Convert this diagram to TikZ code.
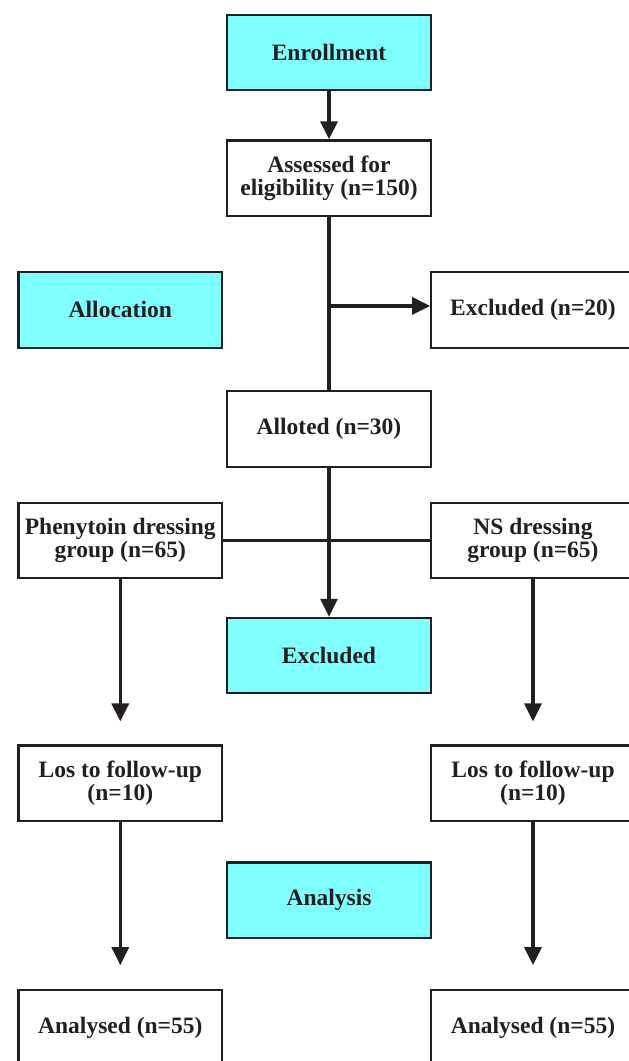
\documentclass[tikz,border=0pt]{standalone}
\usepackage{fontspec}
\setmainfont{Liberation Serif}
\usetikzlibrary{arrows.meta,positioning}
\definecolor{Ink}{HTML}{231F20}
\definecolor{HeadC}{HTML}{80FFFF}

\begin{document}
\begin{tikzpicture}[
  x=1pt, y=-1pt,
  box/.style={draw=Ink, line width=2.2pt, minimum width=203.5pt, minimum height=75.5pt, inner sep=2pt, align=center, text=Ink, font=\fontsize{23.5}{23.5}\selectfont\bfseries},
  head/.style={box, fill=HeadC},
  arr/.style={-{Triangle[length=18pt,width=17pt]}, Ink, line width=3.3pt},
  ln/.style={Ink, line width=3.3pt}
]
\useasboundingbox (0,0) rectangle (629,1061);
\clip (0,0) rectangle (629,1061);

% centre column
\node[head] (enrol) at (329,52.5) {Enrollment};
\node[box, below=48pt of enrol] (assess) {Assessed for\\eligibility (n=150)};
\node[box, below=173pt of assess] (allot) {Alloted (n=30)};
\node[head, below=149pt of allot] (exclhead) {Excluded};
\node[head, below=167pt of exclhead] (analysis) {Analysis};

% side boxes
\node[head, below left=54pt and 3pt of assess] (alloc) {Allocation};
\node[box, right=207pt of alloc] (excl20) {Excluded (n=20)};
\node[box, below left=34pt and 3pt of allot] (phen) {Phenytoin dressing\\group (n=65)};
\node[box, right=207pt of phen] (ns) {NS dressing\\group (n=65)};
\node[box, below=165pt of phen] (losA) {Los to follow-up\\(n=10)};
\node[box, below=165pt of ns] (losB) {Los to follow-up\\(n=10)};
\node[box, below=167pt of losA] (anaA) {Analysed (n=55)};
\node[box, below=167pt of losB] (anaB) {Analysed (n=55)};

% free arrow ends
\coordinate (split) at ([yshift=4pt]excl20.west -| assess.south);
\coordinate (endA) at ([yshift=23pt]losA.north);
\coordinate (endB) at ([yshift=23pt]losB.north);
\coordinate (endC) at ([yshift=24pt]anaA.north);
\coordinate (endD) at ([yshift=24pt]anaB.north);

% arrows
\draw[arr] (enrol) -- (assess);
\draw[ln] (assess) -- (allot);
\draw[arr] (split) -- ([yshift=4pt]excl20.west);
\draw[ln] (phen) -- (ns);
\draw[arr] (allot) -- (exclhead);
\draw[arr] (phen) -- (endA);
\draw[arr] (ns) -- (endB);
\draw[arr] (losA) -- (endC);
\draw[arr] (losB) -- (endD);
\end{tikzpicture}
\end{document}
